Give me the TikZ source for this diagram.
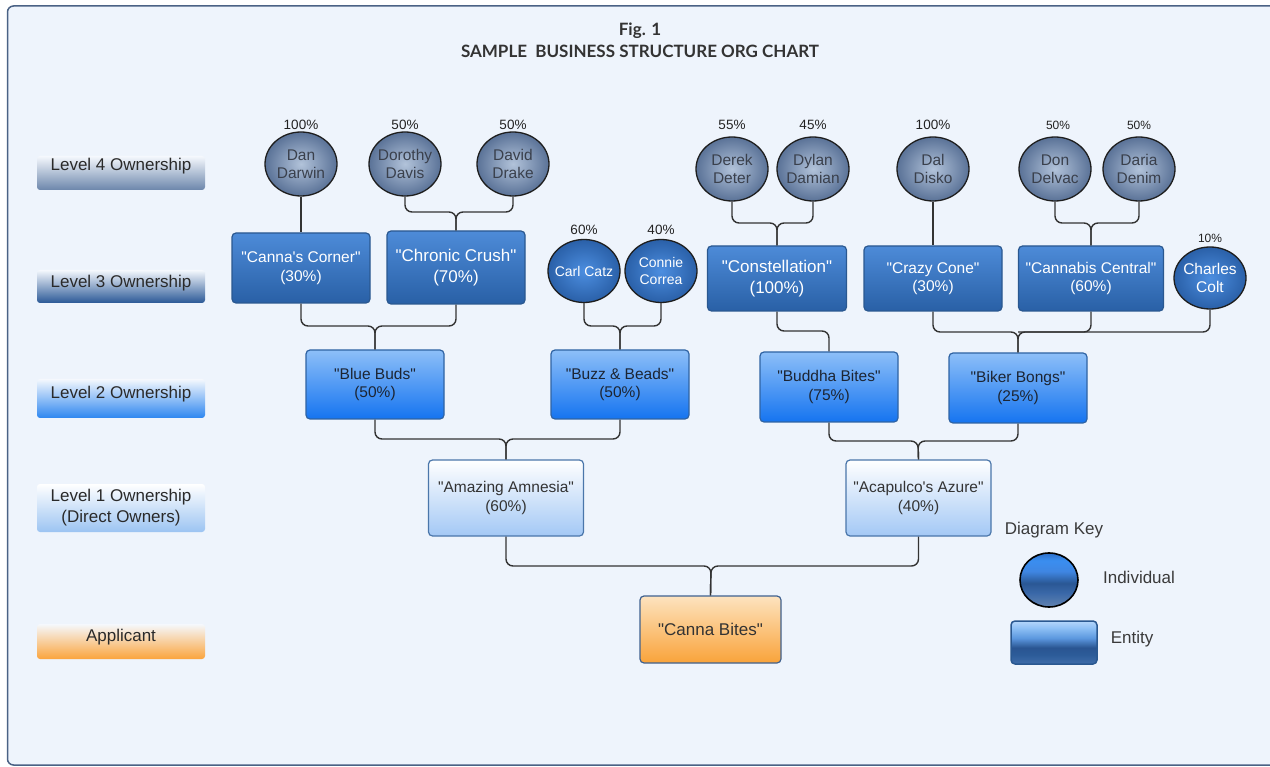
\documentclass[tikz,border=0pt]{standalone}
\usepackage{fontspec}
\setmainfont{Liberation Sans}[Ligatures=TeXOff]
\newfontfamily\titlefont{Lato}
\usetikzlibrary{shapes.geometric}
\definecolor{bgc}{HTML}{EEF4FC}
\definecolor{framec}{HTML}{4A6285}
\definecolor{lnc}{HTML}{333333}
\definecolor{txtd}{HTML}{333333}
\definecolor{circb}{HTML}{1E1E1E}
\definecolor{HTML-ind4in}{HTML}{B2C3DA}
\definecolor{HTML-ind4out}{HTML}{5A7297}
\definecolor{HTML-ind4t}{HTML}{3A404C}
\definecolor{HTML-ind3in}{HTML}{4C8EE0}
\definecolor{HTML-ind3out}{HTML}{2A60A8}
\definecolor{HTML-e3d}{HTML}{2A5890}
\definecolor{HTML-e3t}{HTML}{4D8BD8}
\definecolor{HTML-e3b}{HTML}{2960A6}
\definecolor{HTML-e2d}{HTML}{2F63A3}
\definecolor{HTML-e2t}{HTML}{8DBFF8}
\definecolor{HTML-e2b}{HTML}{1574F0}
\definecolor{HTML-e2x}{HTML}{1C2533}
\definecolor{HTML-e1d}{HTML}{4A76AA}
\definecolor{HTML-e1b}{HTML}{A3C8F5}
\definecolor{HTML-ead}{HTML}{3F618F}
\definecolor{HTML-eat}{HTML}{FDE3BF}
\definecolor{HTML-eab}{HTML}{F9A33A}
\definecolor{HTML-pct}{HTML}{222222}
\definecolor{HTML-lvt}{HTML}{2A2A2A}
\definecolor{HTML-keyt}{HTML}{3A3A3A}
\definecolor{HTML-ttl}{HTML}{333333}
\definecolor{HTML-l4}{HTML}{6C86AB}
\definecolor{HTML-l3}{HTML}{2A5896}
\definecolor{HTML-l2}{HTML}{2D86F0}
\definecolor{HTML-l1}{HTML}{9CC4F2}
\definecolor{HTML-la}{HTML}{FBA43C}
\definecolor{kcA}{HTML}{6283B0}
\definecolor{kcB}{HTML}{3A68A8}
\definecolor{kcC}{HTML}{2A5794}
\definecolor{kcD}{HTML}{3F86E2}
\definecolor{kcE}{HTML}{3A8EF0}
\definecolor{kcF}{HTML}{2D6FC9}
\definecolor{keA}{HTML}{3F6DAA}
\definecolor{keB}{HTML}{2C5B98}
\definecolor{keC}{HTML}{2A5592}
\definecolor{keD}{HTML}{5B97DE}
\definecolor{keE}{HTML}{8FC0F5}
\definecolor{keF}{HTML}{B5D6FA}
\pgfdeclareverticalshading{keycirc}{100bp}{color(0bp)=(kcA); color(25bp)=(kcA); color(38bp)=(kcB); color(47bp)=(kcC); color(58bp)=(kcD); color(68bp)=(kcE); color(75bp)=(kcF); color(100bp)=(kcF)}
\pgfdeclareverticalshading{keyrect}{100bp}{color(0bp)=(keA); color(25bp)=(keA); color(36bp)=(keB); color(44bp)=(keC); color(55bp)=(keD); color(67bp)=(keE); color(75bp)=(keF); color(100bp)=(keF)}
\begin{document}
\begin{tikzpicture}[x=1pt,y=-1pt,
  fA/.style={font=\fontsize{15.5}{18.5}\selectfont},
  fB/.style={font=\fontsize{17}{21.5}\selectfont},
  fC/.style={font=\fontsize{14}{17}\selectfont},
  conn/.style={draw=lnc, line width=1.4pt, rounded corners=7pt},
  ind4/.style={ellipse, draw=circb, line width=1.3pt, inner color=HTML-ind4in, outer color=HTML-ind4out,
    minimum width=72pt, minimum height=64pt, inner sep=-14pt, align=center, text=HTML-ind4t, fA},
  ind3/.style={ellipse, draw=circb, line width=1.3pt, inner color=HTML-ind3in, outer color=HTML-ind3out,
    minimum width=72pt, minimum height=63pt, inner sep=-14pt, align=center, text=white, fC},
  ebox/.style={rectangle, rounded corners=4pt, line width=1.2pt, inner sep=0pt, align=center, fA},
  ent3/.style={ebox, draw=HTML-e3d, top color=HTML-e3t, bottom color=HTML-e3b, text=white},
  ent2/.style={ebox, draw=HTML-e2d, top color=HTML-e2t, bottom color=HTML-e2b, text=HTML-e2x},
  ent1/.style={ebox, draw=HTML-e1d, top color=white, bottom color=HTML-e1b, text=txtd},
  entA/.style={ebox, draw=HTML-ead, top color=HTML-eat, bottom color=HTML-eab, text=txtd, fB},
  pct/.style={inner sep=0pt, text=HTML-pct, font=\fontsize{13.5}{16}\selectfont},
  pcts/.style={pct, font=\fontsize{12}{14}\selectfont},
  lvl/.style={inner sep=0pt, align=center, text=HTML-lvt, font=\fontsize{17}{21}\selectfont},
  lvbox/.style={rounded corners=3pt},
  keyt/.style={inner sep=0pt, text=HTML-keyt, font=\fontsize{17}{20}\selectfont},
  ttl/.style={inner sep=0pt, text=HTML-ttl, font=\titlefont\bfseries\fontsize{17}{20}\selectfont}
]
\useasboundingbox (0,0) rectangle (1270,767);
\fill[white] (0,0) rectangle (1270,767);
\draw[draw=framec, line width=1.5pt, fill=bgc, rounded corners=6pt] (7.5,6) rectangle (1290,765);

% title
\node[ttl] (fig) at (640,31) {Fig. 1};
\node[ttl] (title) at (640,51) {SAMPLE\ \ BUSINESS STRUCTURE ORG CHART};

% level labels
\shade[lvbox, top color=bgc!60!white, middle color=bgc!65!HTML-l4, bottom color=HTML-l4] (37,156) rectangle (205,190);
\node[lvl] (lv4) at (121,166) {Level 4 Ownership};
\shade[lvbox, top color=bgc!60!white, middle color=bgc!65!HTML-l3, bottom color=HTML-l3] (37,270) rectangle (205,303);
\node[lvl] (lv3) at (121,283) {Level 3 Ownership};
\shade[lvbox, top color=bgc!60!white, middle color=bgc!50!HTML-l2, bottom color=HTML-l2] (37,379) rectangle (205,418);
\node[lvl] (lv2) at (121,394) {Level 2 Ownership};
\shade[lvbox, top color=white, middle color=white!60!HTML-l1, bottom color=HTML-l1] (37,484) rectangle (205,532);
\node[lvl] (lv1) at (121,508) {Level 1 Ownership\\(Direct Owners)};
\shade[lvbox, top color=bgc!60!white, middle color=bgc!50!HTML-la, bottom color=HTML-la] (37,624) rectangle (205,659);
\node[lvl] (lva) at (121,637) {Applicant};

% level 4 individuals
\node[ind4] (dan) at (301,164) {Dan\\Darwin};
\node[ind4] (dor) at (405,164) {Dorothy\\Davis};
\node[ind4] (dav) at (513,164) {David\\Drake};
\node[ind4] (der) at (732,169) {Derek\\Deter};
\node[ind4] (dyl) at (813,169) {Dylan\\Damian};
\node[ind4] (dal) at (933,169) {Dal\\Disko};
\node[ind4] (don) at (1055,169) {Don\\Delvac};
\node[ind4] (dar) at (1139,169) {Daria\\Denim};

\node[pct] (pdan) at (301,125) {100\%};
\node[pct] (pdor) at (405,125) {50\%};
\node[pct] (pdav) at (513,125) {50\%};
\node[pct] (pder) at (732,125) {55\%};
\node[pct] (pdyl) at (813,125) {45\%};
\node[pct] (pdal) at (933,125) {100\%};
\node[pcts] (pdon) at (1058,125) {50\%};
\node[pcts] (pdar) at (1139,125) {50\%};

% level 3
\node[ent3, minimum width=138pt, minimum height=70pt] (cnc) at (301,268) {"Canna's Corner"\\(30\%)};
\node[ent3, fB, minimum width=138pt, minimum height=73pt] (chr) at (456,267.5) {"Chronic Crush"\\(70\%)};
\node[ind3] (carl) at (584,271) {Carl Catz};
\node[ind3] (cor) at (661,271) {Connie\\Correa};
\node[ent3, fB, minimum width=139pt, minimum height=65pt] (con) at (777,278.5) {"Constellation"\\(100\%)};
\node[ent3, minimum width=138pt, minimum height=65pt] (crz) at (933,278.5) {"Crazy Cone"\\(30\%)};
\node[ent3, minimum width=145pt, minimum height=65pt] (cc) at (1091,278.5) {"Cannabis Central"\\(60\%)};
\node[ind3, fA, minimum height=62pt] (cha) at (1210,278) {Charles\\Colt};

\node[pct] (pcarl) at (584,230) {60\%};
\node[pct] (pcor) at (661,230) {40\%};
\node[pcts] (pcha) at (1210,238) {10\%};

% level 2
\node[ent2, minimum width=138pt, minimum height=69pt] (bb) at (375,384.5) {"Blue Buds"\\(50\%)};
\node[ent2, minimum width=138pt, minimum height=69pt] (buzz) at (620,384.5) {"Buzz \& Beads"\\(50\%)};
\node[ent2, minimum width=138pt, minimum height=70pt] (bud) at (829,387) {"Buddha Bites"\\(75\%)};
\node[ent2, minimum width=138pt, minimum height=70pt] (bik) at (1018,388) {"Biker Bongs"\\(25\%)};

% level 1
\node[ent1, minimum width=155pt, minimum height=76pt] (ama) at (506,498) {"Amazing Amnesia"\\(60\%)};
\node[ent1, minimum width=145pt, minimum height=76pt] (aca) at (918.5,498) {"Acapulco's Azure"\\(40\%)};

% applicant
\node[entA, minimum width=141pt, minimum height=67pt] (cb) at (710.5,629.5) {"Canna Bites"};

% connectors
\coordinate (jA) at (456,212);
\coordinate (jB) at (777,223);
\coordinate (jC) at (1091,223);
\coordinate (jD) at (375,326);
\coordinate (jE) at (620,326);
\coordinate (jF) at (829,331);
\coordinate (jG) at (1018,332);
\coordinate (jH) at (506,439);
\coordinate (jI) at (918,441);
\coordinate (jJ) at (711,566);

\draw[conn] (dan.south) -- (cnc.north);
\draw[conn] (dor.south) |- (jA) -- (chr.north);
\draw[conn] (dav.south) |- (jA) -- (chr.north);
\draw[conn] (der.south) |- (jB) -- (con.north);
\draw[conn] (dyl.south) |- (jB) -- (con.north);
\draw[conn] (dal.south) -- (crz.north);
\draw[conn] (don.south) |- (jC) -- (cc.north);
\draw[conn] (dar.south) |- (jC) -- (cc.north);

\draw[conn] (cnc.south) |- (jD) -- (bb.north);
\draw[conn] (chr.south) |- (jD) -- (bb.north);
\draw[conn] (carl.south) |- (jE) -- (buzz.north);
\draw[conn] (cor.south) |- (jE) -- (buzz.north);
\draw[conn] (con.south) |- (jF) -- (bud.north);
\draw[conn] (crz.south) |- (jG) -- (bik.north);
\draw[conn] (cha.south) |- (jG) -- (bik.north);
\draw[conn] (cc.south) |- (jG);

\draw[conn] (bb.south) |- (jH) -- (ama.north);
\draw[conn] (buzz.south) |- (jH) -- (ama.north);
\draw[conn] (bud.south) |- (jI) -- (aca.north);
\draw[conn] (bik.south) |- (jI) -- (aca.north);

\draw[conn] (ama.south) |- (jJ) -- (cb.north);
\draw[conn] (aca.south) |- (jJ) -- (cb.north);

% key
\node[keyt] (keyh) at (1054,530) {Diagram Key};
\node[ellipse, draw=black, line width=1.6pt, minimum width=58pt, minimum height=54pt, inner sep=0pt,
  shading=keycirc] (keyind) at (1049,580) {};
\node[keyt] (keyindt) at (1139,577) {Individual};
\node[rectangle, rounded corners=4pt, draw=HTML-e3d, line width=1.5pt, minimum width=86pt, minimum height=43pt, inner sep=0pt,
  shading=keyrect] (keyent) at (1054,642.5) {};
\node[keyt] (keyentt) at (1132,639) {Entity};
\end{tikzpicture}
\end{document}
